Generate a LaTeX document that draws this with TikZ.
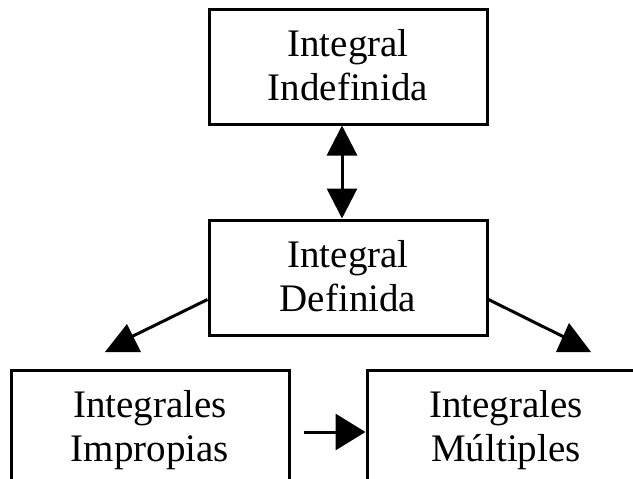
\documentclass[tikz,border=0pt]{standalone}
\usepackage{fontspec}
\setmainfont{Liberation Serif}
\usetikzlibrary{arrows.meta,positioning}

\newcommand{\twolines}[2]{\rule{0pt}{33pt}#1\\#2\rule[-10pt]{0pt}{10pt}}

\begin{document}
\begin{tikzpicture}[
x=1pt,y=-1pt,
box/.style={
rectangle,
minimum width=278pt,
minimum height=115pt,
line width=3pt,
draw=black,
align=center,
inner sep=0pt,
font=\fontsize{39}{44}\selectfont
},
link/.style={line width=3pt,-{Triangle[width=36pt,length=30pt]}},
twoway/.style={line width=3pt,{Triangle[width=30pt,length=30pt]}-{Triangle[width=30pt,length=30pt]}},
head/.style={fill=black}
]

\useasboundingbox (0,0) rectangle (633,479);

\node[box] (indef) at (348,66.5) {\twolines{Integral}{Indefinida}};
\node[box] (def) at (348,277.5) {\twolines{Integral}{Definida}};
\node[box] (impr) at (150,428) {\twolines{Integrales}{Impropias}};
\node[box] (mult) at (506,428) {\twolines{Integrales}{Múltiples}};

\draw[twoway] ([xshift=-6pt]indef.south) -- ([xshift=-6pt]def.north);
\draw[link] ([xshift=13pt,yshift=-4pt]impr.east) -- ([yshift=-4pt]mult.west);

\coordinate (endL) at (131,337);
\coordinate (endR) at (566,338);
\draw[line width=3pt] ([yshift=-22pt]def.west) -- (endL);
\draw[line width=3pt] ([yshift=-22pt]def.east) -- (endR);
\fill[head] (127,324) -- (141,352) -- (105,352) -- cycle;
\fill[head] (569,323) -- (591,352) -- (556,352) -- cycle;

\end{tikzpicture}
\end{document}
